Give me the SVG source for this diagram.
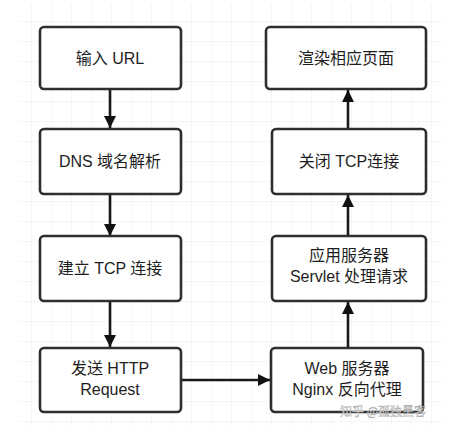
<svg xmlns="http://www.w3.org/2000/svg" width="454" height="438" viewBox="0 0 454 438">
<defs>
<pattern id="grid" width="20" height="20" patternUnits="userSpaceOnUse" x="12" y="2">
<path d="M20 0V20M0 20H20" fill="none" stroke="#ebebeb" stroke-width="1"/>
</pattern>
<marker id="ah" viewBox="0 0 10 10" refX="10" refY="5" markerWidth="12" markerHeight="12" markerUnits="userSpaceOnUse" orient="auto">
<path d="M0 0L10 5L0 10Z" fill="#111"/>
</marker>
</defs>
<style>
.box{fill:#fff;stroke:#2e2e2e;stroke-width:2.6}
.t{font-family:"Liberation Sans","Noto Sans CJK SC",sans-serif;font-size:16px;fill:#1e1e1e;text-anchor:middle}
.c{stroke:#1a1a1a;stroke-width:2.6;fill:none;marker-end:url(#ah)}
</style>
<rect width="454" height="438" fill="#fff"/>
<rect x="18" y="4" width="424" height="422" fill="url(#grid)"/>
<g id="connectors">
<path class="c" d="M110 90V128"/>
<path class="c" d="M110 195V236"/>
<path class="c" d="M110 302V347"/>
<path class="c" d="M181 380H270"/>
<path class="c" d="M348 347V302"/>
<path class="c" d="M348 236V195"/>
<path class="c" d="M348 128V90"/>
</g>
<g id="n1"><rect class="box" x="40" y="27" width="141" height="62" rx="4"/><text class="t" x="110" y="64">输入 URL</text></g>
<g id="n2"><rect class="box" x="40" y="129" width="141" height="65" rx="4"/><text class="t" x="110" y="167">DNS 域名解析</text></g>
<g id="n3"><rect class="box" x="40" y="236" width="141" height="65" rx="4"/><text class="t" x="110" y="274">建立 TCP 连接</text></g>
<g id="n4"><rect class="box" x="40" y="348" width="141" height="64" rx="4"/><text class="t" x="110" y="374">发送 HTTP</text><text class="t" x="110" y="395">Request</text></g>
<g id="n5"><rect class="box" x="271" y="348" width="152" height="64" rx="4"/><text class="t" x="347" y="374">Web 服务器</text><text class="t" x="347" y="395">Nginx 反向代理</text></g>
<g id="n6"><rect class="box" x="272" y="236" width="154" height="65" rx="4"/><text class="t" x="349" y="261">应用服务器</text><text class="t" x="349" y="282">Servlet 处理请求</text></g>
<g id="n7"><rect class="box" x="272" y="129" width="154" height="65" rx="4"/><text class="t" x="349" y="167">关闭 TCP连接</text></g>
<g id="n8"><rect class="box" x="266" y="27" width="160" height="62" rx="4"/><text class="t" x="346" y="64">渲染相应页面</text></g>
<text x="340" y="416" font-family="'Noto Sans CJK SC',sans-serif" font-size="12" fill="#fff" fill-opacity="0.85" stroke="#9a9a9a" stroke-width="0.4">知乎 @孤独黑客</text>
</svg>
